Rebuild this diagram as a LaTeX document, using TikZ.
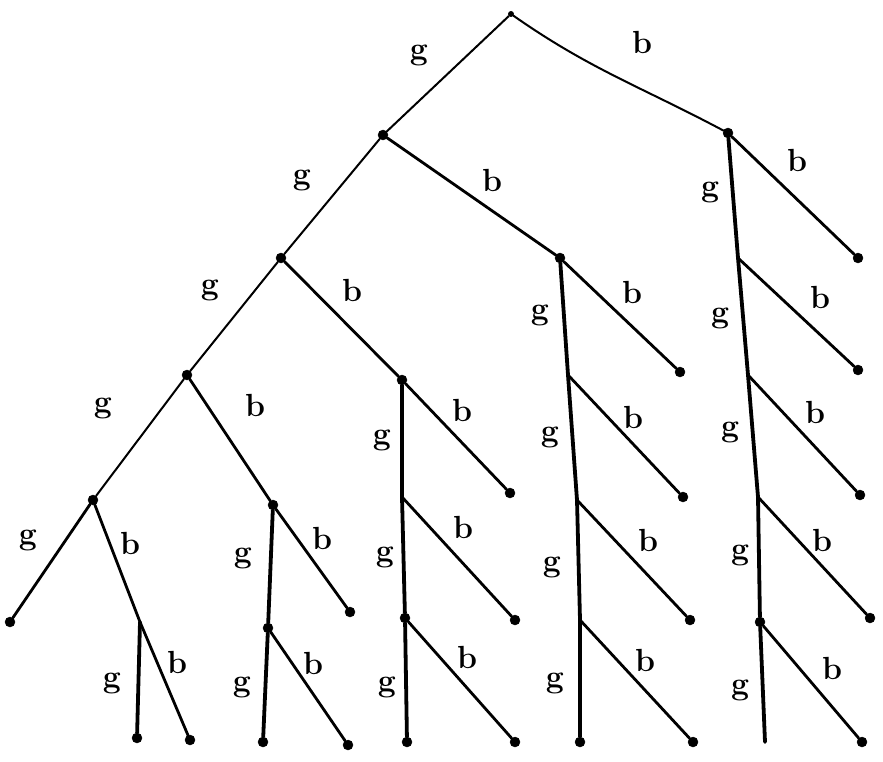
\documentclass[tikz,border=0pt]{standalone}
\usepackage{fontspec}
\begin{document}
\begin{tikzpicture}[x=1pt,y=-1pt,
  dot/.style={circle,fill=black,draw=black,inner sep=0pt,minimum size=10pt},
  sdot/.style={circle,fill=black,inner sep=0pt,minimum size=6pt},
  thin1/.style={line width=2pt,line cap=round},
  mid1/.style={line width=2.8pt,line cap=round},
  vert/.style={line width=3.8pt,line cap=round},
  lbl/.style={font=\fontsize{32}{34}\selectfont\bfseries,inner sep=0pt}]
\useasboundingbox (0,0) rectangle (883,762);
% inner nodes
\node[sdot] (r) at (511,14) {};
\node[dot] (a) at (383,135) {};
\node[dot] (c) at (728,133) {};
\node[dot] (aa) at (281,258) {};
\node[dot] (ab) at (560,258) {};
\node[dot] (aaa) at (187,375) {};
\node[dot] (aab) at (402,380) {};
\node[dot] (aaaa) at (93,500) {};
\node[dot] (aaab) at (273,505) {};
% column 1
\node[dot] (L1) at (10,622) {};
\coordinate (j1) at (140,622);
\node[dot] (L2) at (137,738) {};
\node[dot] (L3) at (190,740) {};
% column 2
\node[dot] (L4) at (350,612) {};
\node[dot] (n5) at (268,628) {};
\node[dot] (L6) at (263,742) {};
\node[dot] (L7) at (348,745) {};
% column 3
\coordinate (j2) at (402,497);
\node[dot] (L8) at (510,493) {};
\node[dot] (n9) at (405,618) {};
\node[dot] (L10) at (515,620) {};
\node[dot] (L11) at (407,742) {};
\node[dot] (L12) at (515,742) {};
% column 4
\coordinate (j3) at (568,375);
\node[dot] (L13) at (680,372) {};
\coordinate (j4) at (577,500);
\node[dot] (L14) at (683,497) {};
\coordinate (j5) at (580,620);
\node[dot] (L15) at (690,620) {};
\node[dot] (L16) at (580,742) {};
\node[dot] (L17) at (693,742) {};
% column 5
\node[dot] (L18) at (858,258) {};
\coordinate (j6) at (738,258);
\node[dot] (L19) at (858,370) {};
\coordinate (j7) at (748,375);
\node[dot] (L20) at (860,495) {};
\coordinate (j8) at (758,497);
\node[dot] (L21) at (870,618) {};
\node[dot] (n22) at (760,622) {};
\node[dot] (L23) at (862,742) {};
\coordinate (e24) at (765,742);
% edges
\draw[thin1] (r) -- (a);
\draw[thin1] (r) to[out=-35,in=152] (c);
\draw[thin1] (a) -- (aa);
\draw[mid1] (a) -- (ab);
\draw[thin1] (aa) -- (aaa);
\draw[mid1] (aa) -- (aab);
\draw[thin1] (aaa) -- (aaaa);
\draw[mid1] (aaa) -- (aaab);
\draw[mid1] (aaaa) -- (L1);
\draw[mid1] (aaaa) -- (j1) -- (L3);
\draw[vert] (j1) -- (L2);
\draw[mid1] (aaab) -- (L4);
\draw[vert] (aaab) -- (n5) -- (L6);
\draw[mid1] (n5) -- (L7);
\draw[vert] (aab) -- (j2) -- (n9) -- (L11);
\draw[mid1] (aab) -- (L8);
\draw[mid1] (j2) -- (L10);
\draw[mid1] (n9) -- (L12);
\draw[vert] (ab) -- (j3) -- (j4) -- (j5) -- (L16);
\draw[mid1] (ab) -- (L13);
\draw[mid1] (j3) -- (L14);
\draw[mid1] (j4) -- (L15);
\draw[mid1] (j5) -- (L17);
\draw[vert] (c) -- (j6) -- (j7) -- (j8) -- (n22) -- (e24);
\draw[mid1] (c) -- (L18);
\draw[mid1] (j6) -- (L19);
\draw[mid1] (j7) -- (L20);
\draw[mid1] (j8) -- (L21);
\draw[mid1] (n22) -- (L23);
% labels
\foreach \p/\t [count=\i] in {
 {419,55}/g, {642,42}/b,
 {302,180}/g, {492,180}/b, {710,192}/g, {797,160}/b,
 {210,290}/g, {352,290}/b, {540,315}/g, {632,292}/b, {720,318}/g, {820,297}/b,
 {103,408}/g, {255,405}/b, {382,440}/g, {462,410}/b, {550,437}/g, {633,417}/b, {730,432}/g, {815,412}/b,
 {28,540}/g, {130,543}/b, {243,558}/g, {322,538}/b, {385,557}/g, {463,527}/b, {552,567}/g, {648,540}/b, {740,555}/g, {822,540}/b,
 {112,683}/g, {177,662}/b, {242,687}/g, {313,663}/b, {387,687}/g, {467,657}/b, {555,683}/g, {645,660}/b, {740,690}/g, {832,668}/b}
 \node[lbl] (lab\i) at (\p) {\t};
\end{tikzpicture}
\end{document}
